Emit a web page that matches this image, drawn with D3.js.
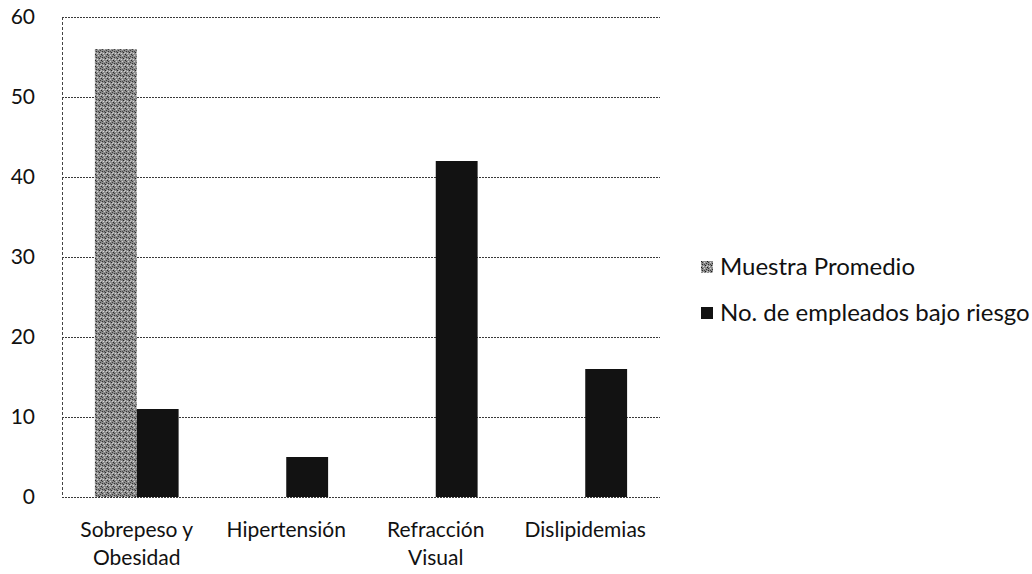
<!DOCTYPE html>
<html>
<head>
<meta charset="utf-8">
<script src="https://cdn.jsdelivr.net/npm/d3@7"></script>
<style>
  body { margin: 0; background: #fff; }
  text { font-family: Lato, "Open Sans", sans-serif; fill: #111; }
</style>
</head>
<body>
<svg width="1032" height="574"></svg>
<script>
var categories = ["Sobrepeso y Obesidad", "Hipertensión", "Refracción Visual", "Dislipidemias"]
var catLines = [["Sobrepeso y", "Obesidad"], ["Hipertensión"], ["Refracción", "Visual"], ["Dislipidemias"]]
var seriesNames = ["Muestra Promedio", "No. de empleados bajo riesgo"]
var muestra = [56, 0, 0, 0]
var empleados = [11, 5, 42, 16]
var yTicks = [0, 10, 20, 30, 40, 50, 60]

var svg = d3.select("svg")
var colors = ["url(#speckle)", "#121212"]

// speckled grey fill for the first series (scan look)
var defs = svg.append("defs")
var pat = defs.append("pattern")
    .attr("id", "speckle")
    .attr("width", 6).attr("height", 6)
    .attr("patternUnits", "userSpaceOnUse")
pat.append("rect").attr("width", 6).attr("height", 6).attr("fill", "#8e8e8e")
var dots = [[0,0,"#1a1a1a"],[3,1,"#d6d6d6"],[1,3,"#2a2a2a"],[4,4,"#1a1a1a"],[2,5,"#e0e0e0"],
            [5,2,"#333"],[0,4,"#c8c8c8"],[3,3,"#444"],[1,1,"#3a3a3a"],[5,5,"#d0d0d0"]]
dots.forEach(function(p) {
    pat.append("rect").attr("x", p[0]).attr("y", p[1]).attr("width", 1).attr("height", 1).attr("fill", p[2])
})

var plotLeft = 62, plotRight = 660, plotTop = 17, plotBottom = 497

var yScale = d3.scaleLinear().domain([0, 60]).range([plotBottom, plotTop])
var x0 = d3.scaleBand().domain(categories).range([plotLeft, plotRight]).paddingInner(0.44).paddingOuter(0.22)
var x1 = d3.scaleBand().domain(seriesNames).range([0, x0.bandwidth()])

// gridlines
svg.append("g")
    .selectAll("line")
    .data(yTicks)
    .enter()
    .append("line")
    .attr("x1", plotLeft)
    .attr("x2", plotRight)
    .attr("y1", function(d) { return yScale(d) + 0.5 })
    .attr("y2", function(d) { return yScale(d) + 0.5 })
    .style("stroke", "#3a3a3a")
    .style("stroke-width", 1)
    .style("stroke-dasharray", "2,1")

// y axis line
svg.append("line")
    .attr("x1", plotLeft + 0.5).attr("x2", plotLeft + 0.5)
    .attr("y1", plotTop).attr("y2", plotBottom)
    .style("stroke", "#444")
    .style("stroke-dasharray", "3,2")

// tick labels
svg.append("g")
    .selectAll("text")
    .data(yTicks)
    .enter()
    .append("text")
    .attr("x", 35)
    .attr("y", function(d) { return yScale(d) })
    .attr("dy", "0.35em")
    .attr("text-anchor", "end")
    .style("font-size", "21px")
    .text(function(d) { return d })

// bars
var rows = categories.map(function(c, i) { return { cat: c, vals: [muestra[i], empleados[i]] } })
var groups = svg.append("g")
    .selectAll("g")
    .data(rows)
    .enter()
    .append("g")
    .attr("transform", function(d) { return "translate(" + x0(d.cat) + ",0)" })

groups.selectAll("rect")
    .data(function(d) {
        return d.vals.map(function(v, j) { return { s: seriesNames[j], v: v, j: j } })
                     .filter(function(e) { return e.v > 0 })
    })
    .enter()
    .append("rect")
    .attr("x", function(d) { return x1(d.s) })
    .attr("y", function(d) { return yScale(d.v) })
    .attr("width", x1.bandwidth())
    .attr("height", function(d) { return yScale(0) - yScale(d.v) })
    .style("fill", function(d) { return colors[d.j] })

// category labels
var catG = svg.append("g")
    .selectAll("text")
    .data(categories)
    .enter()
    .append("text")
    .attr("x", function(d) { return x0(d) + x0.bandwidth() / 2 })
    .attr("y", 537)
    .attr("text-anchor", "middle")
    .style("font-size", "21px")
catG.selectAll("tspan")
    .data(function(d, i) { return catLines[i] })
    .enter()
    .append("tspan")
    .attr("x", function() { return this.parentNode.getAttribute("x") })
    .attr("dy", function(d, i) { return i == 0 ? 0 : 28 })
    .text(function(d) { return d })

// legend
var legend = svg.append("g")
    .selectAll("g")
    .data(seriesNames)
    .enter()
    .append("g")
    .attr("transform", function(d, i) { return "translate(701," + (267 + i * 46) + ")" })
legend.append("rect")
    .attr("x", 0).attr("y", -6)
    .attr("width", 12).attr("height", 12)
    .style("fill", function(d, i) { return colors[i] })
legend.append("text")
    .attr("x", 19)
    .attr("y", 0)
    .attr("dy", "0.35em")
    .style("font-size", "24px")
    .text(function(d) { return d })
</script>
</body>
</html>
